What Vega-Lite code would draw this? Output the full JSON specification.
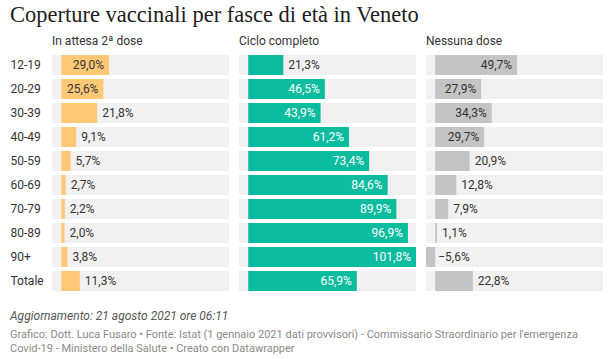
{
  "$schema": "https://vega.github.io/schema/vega-lite/v6.json",
  "padding": {"left": 10, "top": 3, "right": 5, "bottom": 5},
  "background": "white",
  "title": {"text": "Coperture vaccinali per fasce di età in Veneto", "anchor": "start", "frame": "bounds", "font": "Liberation Serif", "fontSize": 22.5, "fontWeight": "normal", "color": "#1d1d1d", "offset": 9},
  "config": {
    "view": {"stroke": null},
    "font": "Roboto",
    "text": {"font": "Roboto", "fontSize": 12}
  },
  "vconcat": [
    {
      "data": {"values": [
        {"g": "12-19", "m": "In attesa 2ª dose", "v": 29.0, "l": "29,0%"},
        {"g": "20-29", "m": "In attesa 2ª dose", "v": 25.6, "l": "25,6%"},
        {"g": "30-39", "m": "In attesa 2ª dose", "v": 21.8, "l": "21,8%"},
        {"g": "40-49", "m": "In attesa 2ª dose", "v": 9.1, "l": "9,1%"},
        {"g": "50-59", "m": "In attesa 2ª dose", "v": 5.7, "l": "5,7%"},
        {"g": "60-69", "m": "In attesa 2ª dose", "v": 2.7, "l": "2,7%"},
        {"g": "70-79", "m": "In attesa 2ª dose", "v": 2.2, "l": "2,2%"},
        {"g": "80-89", "m": "In attesa 2ª dose", "v": 2.0, "l": "2,0%"},
        {"g": "90+", "m": "In attesa 2ª dose", "v": 3.8, "l": "3,8%"},
        {"g": "Totale", "m": "In attesa 2ª dose", "v": 11.3, "l": "11,3%"},
        {"g": "12-19", "m": "Ciclo completo", "v": 21.3, "l": "21,3%"},
        {"g": "20-29", "m": "Ciclo completo", "v": 46.5, "l": "46,5%"},
        {"g": "30-39", "m": "Ciclo completo", "v": 43.9, "l": "43,9%"},
        {"g": "40-49", "m": "Ciclo completo", "v": 61.2, "l": "61,2%"},
        {"g": "50-59", "m": "Ciclo completo", "v": 73.4, "l": "73,4%"},
        {"g": "60-69", "m": "Ciclo completo", "v": 84.6, "l": "84,6%"},
        {"g": "70-79", "m": "Ciclo completo", "v": 89.9, "l": "89,9%"},
        {"g": "80-89", "m": "Ciclo completo", "v": 96.9, "l": "96,9%"},
        {"g": "90+", "m": "Ciclo completo", "v": 101.8, "l": "101,8%"},
        {"g": "Totale", "m": "Ciclo completo", "v": 65.9, "l": "65,9%"},
        {"g": "12-19", "m": "Nessuna dose", "v": 49.7, "l": "49,7%"},
        {"g": "20-29", "m": "Nessuna dose", "v": 27.9, "l": "27,9%"},
        {"g": "30-39", "m": "Nessuna dose", "v": 34.3, "l": "34,3%"},
        {"g": "40-49", "m": "Nessuna dose", "v": 29.7, "l": "29,7%"},
        {"g": "50-59", "m": "Nessuna dose", "v": 20.9, "l": "20,9%"},
        {"g": "60-69", "m": "Nessuna dose", "v": 12.8, "l": "12,8%"},
        {"g": "70-79", "m": "Nessuna dose", "v": 7.9, "l": "7,9%"},
        {"g": "80-89", "m": "Nessuna dose", "v": 1.1, "l": "1,1%"},
        {"g": "90+", "m": "Nessuna dose", "v": -5.6, "l": "−5,6%"},
        {"g": "Totale", "m": "Nessuna dose", "v": 22.8, "l": "22,8%"}
      ]},
      "title": {
        "text": "Aggiornamento: 21 agosto 2021 ore 06:11",
        "orient": "bottom", "anchor": "start", "frame": "bounds",
        "font": "Roboto", "fontSize": 12, "fontStyle": "italic", "fontWeight": "normal", "color": "#555555", "offset": 18,
        "subtitle": ["Grafico: Dott. Luca Fusaro • Fonte: Istat (1 gennaio 2021 dati provvisori) - Commissario Straordinario per l'emergenza", "Covid-19 - Ministero della Salute • Creato con Datawrapper"],
        "subtitleFont": "Roboto", "subtitleFontSize": 11, "subtitleColor": "#8a8a8a", "subtitleLineHeight": 14, "subtitlePadding": 6
      },
      "facet": {
        "column": {
          "field": "m", "type": "nominal",
          "sort": ["In attesa 2ª dose", "Ciclo completo", "Nessuna dose"],
          "header": {"title": null, "labelAnchor": "start", "labelAlign": "left", "labelFont": "Roboto", "labelFontSize": 12, "labelColor": "#333333", "labelPadding": 5}
        }
      },
      "spacing": 10,
      "spec": {
        "width": 177,
        "height": 240,
        "encoding": {
          "y": {"field": "g", "type": "nominal", "sort": null,
                "scale": {"paddingInner": 0.1667, "paddingOuter": 0.0833},
                "axis": {"title": null, "domain": false, "ticks": false, "labelAlign": "left", "labelPadding": 42, "labelFont": "Roboto", "labelFontSize": 12, "labelColor": "#333333"}}
        },
        "layer": [
          {
            "mark": {"type": "bar", "color": "#f1f1f1"},
            "encoding": {
              "x": {"datum": -5.6, "type": "quantitative", "scale": {"domain": [-5.6, 101.8], "nice": false}, "axis": null},
              "x2": {"datum": 101.8}
            }
          },
          {
            "mark": {"type": "bar"},
            "encoding": {
              "x": {"field": "v", "type": "quantitative"},
              "x2": {"datum": 0},
              "color": {"field": "m", "type": "nominal", "legend": null,
                        "scale": {"domain": ["In attesa 2ª dose", "Ciclo completo", "Nessuna dose"], "range": ["#fec876", "#0bbc9f", "#c4c4c4"]}}
            }
          },
          {
            "transform": [{"filter": "datum.v >= 25"}],
            "mark": {"type": "text", "align": "right", "baseline": "middle", "dx": -5, "fontSize": 12},
            "encoding": {
              "x": {"field": "v", "type": "quantitative"},
              "text": {"field": "l"},
              "color": {"condition": {"test": "datum.m === 'Ciclo completo'", "value": "white"}, "value": "#333333"}
            }
          },
          {
            "transform": [{"filter": "datum.v >= 0 && datum.v < 25"}],
            "mark": {"type": "text", "align": "left", "baseline": "middle", "dx": 5, "fontSize": 12, "color": "#333333"},
            "encoding": {
              "x": {"field": "v", "type": "quantitative"},
              "text": {"field": "l"}
            }
          },
          {
            "transform": [{"filter": "datum.v < 0"}],
            "mark": {"type": "text", "align": "left", "baseline": "middle", "dx": 3, "fontSize": 12, "color": "#333333"},
            "encoding": {
              "x": {"datum": 0, "type": "quantitative"},
              "text": {"field": "l"}
            }
          }
        ]
      }
    }
  ]
}
